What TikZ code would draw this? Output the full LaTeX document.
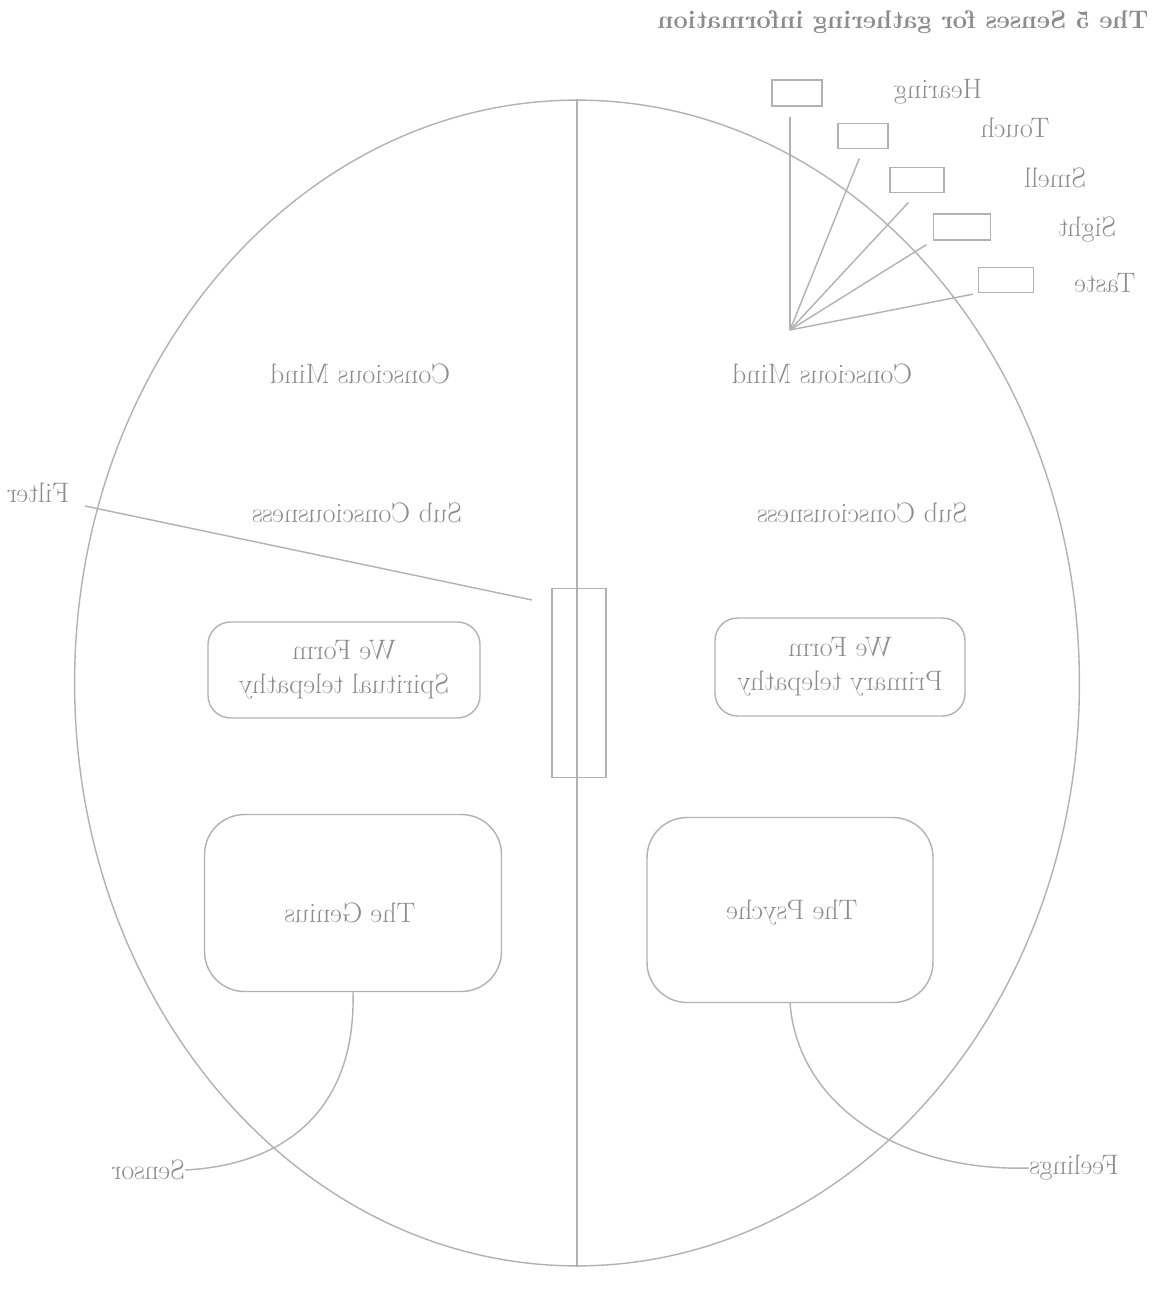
\documentclass[tikz,border=0pt]{standalone}
\usepackage{fontspec}
\usetikzlibrary{shapes.geometric}
\newcommand{\mirtxt}[1]{\reflectbox{#1}}
\begin{document}
\begin{tikzpicture}[x=0.02cm,y=-0.02cm,
  ln/.style={draw=black!30, line width=0.8pt},
  txt/.style={text=black!45, font=\fontsize{16}{19}\selectfont, inner sep=0pt},
  sbox/.style={ln, rectangle, inner sep=0pt},
  rbox/.style={ln, rectangle, rounded corners=0.45cm, inner sep=0pt, align=center, text=black!45, font=\fontsize{16}{19}\selectfont},
  bbox/.style={rbox, rounded corners=0.8cm}]
\useasboundingbox (0,0) rectangle (1158,1290);
\fill[white] (0,0) rectangle (1158,1290);

% outer ellipse and dividing line
\node[ln, ellipse, minimum width=20.1cm, minimum height=23.32cm, inner sep=0pt] (mind) at (577,683) {};
\draw[ln] (mind.north) -- (mind.south);

% title
\node[txt, font=\fontsize{14.5}{17}\selectfont\bfseries] (title) at (903,22) {\mirtxt{The 5 Senses for gathering information}};

% sense boxes
\node[sbox, minimum width=1.0cm, minimum height=0.52cm] (hearing) at (797,93) {};
\node[sbox, minimum width=1.0cm, minimum height=0.5cm] (touch) at (863,136) {};
\node[sbox, minimum width=1.08cm, minimum height=0.5cm] (smell) at (917,180) {};
\node[sbox, minimum width=1.14cm, minimum height=0.52cm] (sight) at (962,227) {};
\node[sbox, minimum width=1.1cm, minimum height=0.5cm] (taste) at (1006,280) {};

\node[txt] (lhearing) at (938,92) {\mirtxt{Hearing}};
\node[txt] (ltouch) at (1015,128) {\mirtxt{Touch}};
\node[txt] (lsmell) at (1055,178) {\mirtxt{Smell}};
\node[txt] (lsight) at (1087,230) {\mirtxt{Sight}};
\node[txt] (ltaste) at (1105,283) {\mirtxt{Taste}};

\coordinate (hub) at (790,330);
\draw[ln, shorten >=0.2cm] (hub) -- (hearing.south -| hub);
\draw[ln, shorten >=0.2cm] (hub) -- (touch.south);
\draw[ln, shorten >=0.25cm] (hub) -- (smell.south);
\draw[ln, shorten >=0.15cm] (hub) -- (sight.south west);
\draw[ln, shorten >=0.1cm] (hub) -- (taste.south west);

% layer labels
\node[txt] (lconsc) at (360,374) {\mirtxt{Conscious Mind}};
\node[txt] (rconsc) at (822,374) {\mirtxt{Conscious Mind}};
\node[txt] (lsub) at (357,513) {\mirtxt{Sub Consciousness}};
\node[txt] (rsub) at (862,513) {\mirtxt{Sub Consciousness}};

% filter
\node[sbox, minimum width=1.08cm, minimum height=3.78cm] (filter) at (579,683) {};
\node[txt] (lfilter) at (38,493) {\mirtxt{Filter}};
\coordinate (fa) at (85,506);
\coordinate (fb) at (532,600);
\draw[ln] (fa) -- (fb);

% telepathy boxes
\node[rbox, minimum width=5.44cm, minimum height=1.92cm] (spirit) at (344,670)
  {\mirtxt{\begin{tabular}{@{}c@{}}We Form\\Spiritual telepathy\end{tabular}}};
\node[rbox, minimum width=5.0cm, minimum height=1.96cm] (primary) at (840,667)
  {\mirtxt{\begin{tabular}{@{}c@{}}We Form\\Primary telepathy\end{tabular}}};

% big boxes
\node[bbox, minimum width=5.94cm, minimum height=3.54cm] (genius) at (353,903) {};
\node[txt] (tgenius) at (350,913) {\mirtxt{The Genius}};
\node[bbox, minimum width=5.72cm, minimum height=3.7cm] (psyche) at (790,910) {};
\node[txt] (tpsyche) at (792,913) {\mirtxt{The Psyche}};

% sensor / feelings
\node[txt] (lsensor) at (148,1170) {\mirtxt{Sensor}};
\node[txt] (lfeel) at (1074,1168) {\mirtxt{Feelings}};
\draw[ln] (genius.south) .. controls (356,1110) and (285,1165) .. (lsensor.east);
\draw[ln] (psyche.south) .. controls (798,1105) and (900,1172) .. (lfeel.west);
\end{tikzpicture}
\end{document}
